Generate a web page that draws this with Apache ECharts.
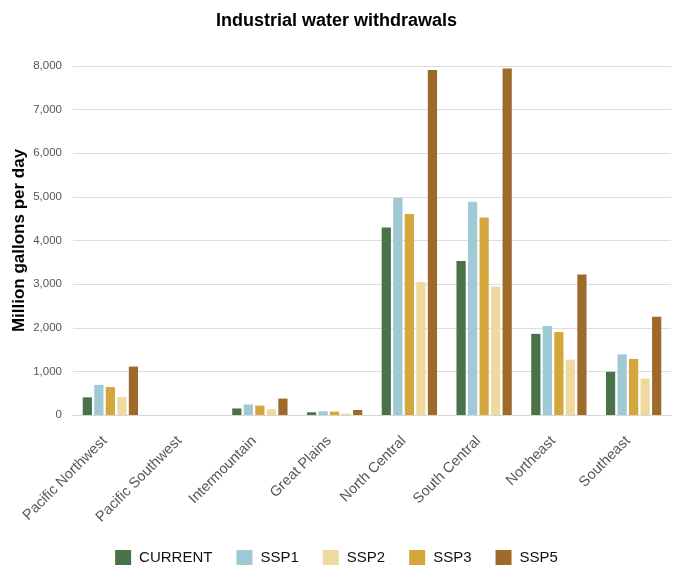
<!DOCTYPE html>
<html>
<head>
<meta charset="utf-8">
<script src="https://cdn.jsdelivr.net/npm/echarts@6/dist/echarts.min.js"></script>
<style>
html,body{margin:0;padding:0;background:#fff;}
#chart{width:673px;height:565px;}
</style>
</head>
<body>
<div id="chart"></div>
<script>
var categories = ["Pacific Northwest","Pacific Southwest","Intermountain","Great Plains","North Central","South Central","Northeast","Southeast"];
var currentVals = [405, 0, 150, 62, 4300, 3530, 1860, 990];
var ssp1Vals    = [690, 0, 240, 85, 4980, 4890, 2040, 1390];
var ssp3Vals    = [640, 0, 216, 77, 4610, 4530, 1900, 1285];
var ssp2Vals    = [413, 0, 131, 32, 3050, 2945, 1270, 835];
var ssp5Vals    = [1110, 0, 376, 115, 7910, 7945, 3220, 2255];
var legendOrder = ["CURRENT","SSP1","SSP2","SSP3","SSP5"];

var colors = {CURRENT:"#4a7249", SSP1:"#9fc9d4", SSP2:"#eed9a1", SSP3:"#d4a73d", SSP5:"#9e6a2a"};

function bar(name, data){
  return {name:name, type:"bar", data:data, itemStyle:{color:colors[name]},
          barGap:"25%", barCategoryGap:"26%"};
}

var chart = echarts.init(document.getElementById("chart"), null, {renderer:"canvas"});
chart.setOption({
  animation:false,
  textStyle:{fontFamily:"Liberation Sans, Arial, sans-serif"},
  title:{text:"Industrial water withdrawals", left:"center", top:7,
         textStyle:{fontSize:18, fontWeight:"bold", color:"#000"}},
  legend:{data:legendOrder, bottom:-5, left:"center", itemWidth:16, itemHeight:15, itemGap:24,
          icon:"rect", textStyle:{fontSize:15, color:"#111", padding:[0,0,0,3]}},
  grid:{left:73, right:2, top:66, bottom:150, containLabel:false},
  xAxis:{type:"category", data:categories,
         axisLine:{show:true, lineStyle:{color:"#d6d6d6"}},
         axisTick:{show:false},
         axisLabel:{rotate:45, fontSize:14.5, color:"#555", margin:18, interval:0,
                    padding:[0,8,0,0]}},
  yAxis:{type:"value", min:0, max:8000, interval:1000,
         name:"Million gallons per day", nameLocation:"middle", nameGap:45,
         nameMoveOverlap:false,
         nameTextStyle:{fontSize:17, fontWeight:"bold", color:"#000"},
         axisLine:{show:false}, axisTick:{show:false},
         axisLabel:{fontSize:11.5, color:"#555", margin:11,
                    formatter:function(v){return v.toLocaleString("en-US");}},
         splitLine:{lineStyle:{color:"#dcdcdc"}}},
  series:[
    bar("CURRENT", currentVals),
    bar("SSP1", ssp1Vals),
    bar("SSP3", ssp3Vals),
    bar("SSP2", ssp2Vals),
    bar("SSP5", ssp5Vals)
  ]
});
</script>
</body>
</html>
